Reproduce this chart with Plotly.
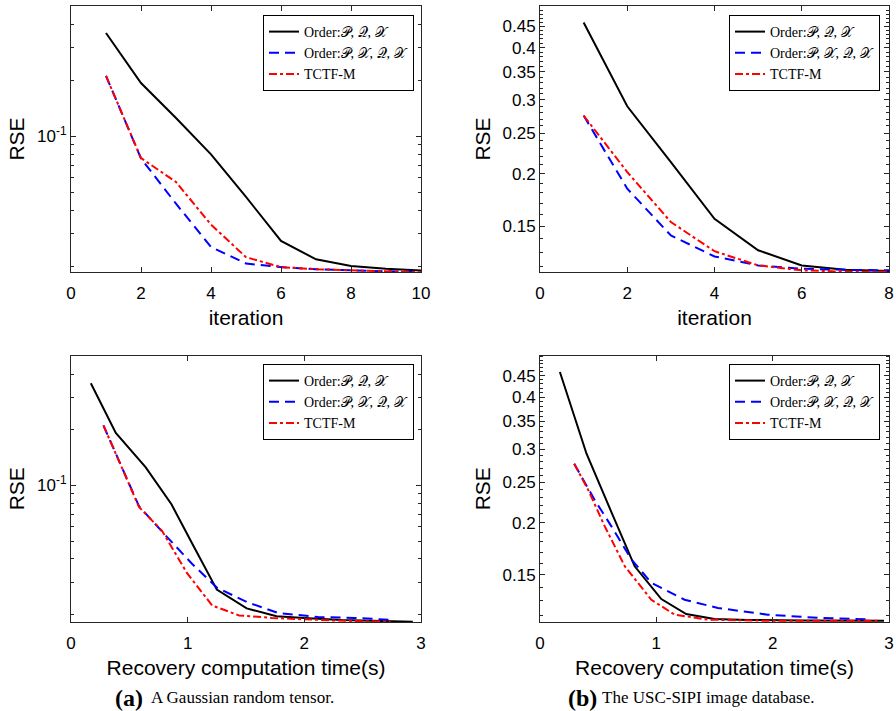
import plotly.graph_objects as go
import math

# ---------------- data ----------------
# (a) top: RSE vs iteration, Gaussian random tensor
a_iter_x = [1, 2, 3, 4, 5, 6, 7, 8, 9, 10]
a_iter_pqx = [0.359, 0.1934, 0.1254, 0.080, 0.0472, 0.0274, 0.0218, 0.0201, 0.0194, 0.0190]
a_iter_pxqx = [0.211, 0.0760, 0.0434, 0.0254, 0.0207, 0.0198, 0.0193, 0.0190, 0.0188, 0.0187]
a_iter_tctf = [0.211, 0.0764, 0.0568, 0.0335, 0.0224, 0.0198, 0.0193, 0.0190, 0.0188, 0.0186]

# (b) top: RSE vs iteration, USC-SIPI
b_iter_x = [1, 2, 3, 4, 5, 6, 7, 8]
b_iter_pqx = [0.4589, 0.2897, 0.2130, 0.1561, 0.1313, 0.1208, 0.1179, 0.1172]
b_iter_pxqx = [0.2753, 0.1842, 0.1424, 0.1269, 0.1208, 0.1186, 0.1179, 0.1176]
b_iter_tctf = [0.2753, 0.2018, 0.1533, 0.1306, 0.1208, 0.1176, 0.1167, 0.1166]

# (a) bottom: RSE vs time
a_time_pqx_x = [0.17, 0.384, 0.639, 0.861, 1.05, 1.25, 1.506, 1.762, 2.0, 2.32, 2.93]
a_time_pqx_y = [0.357, 0.192, 0.1256, 0.079, 0.047, 0.0273, 0.0216, 0.0196, 0.0192, 0.0187, 0.0183]
a_time_pxqx_x = [0.278, 0.583, 0.81, 1.037, 1.25, 1.506, 1.776, 2.117, 2.43, 2.76]
a_time_pxqx_y = [0.211, 0.0771, 0.0537, 0.0377, 0.028, 0.0234, 0.0204, 0.0194, 0.0192, 0.0187]
a_time_tctf_x = [0.278, 0.583, 0.78, 0.995, 1.21, 1.44, 1.72, 2.23, 2.74]
a_time_tctf_y = [0.211, 0.0764, 0.0568, 0.0335, 0.0224, 0.0198, 0.0192, 0.0186, 0.0183]

# (b) bottom: RSE vs time
b_time_pqx_x = [0.171, 0.40, 0.611, 0.814, 1.043, 1.257, 1.5, 1.786, 2.24, 2.957]
b_time_pqx_y = [0.4594, 0.2926, 0.213, 0.1573, 0.1313, 0.1209, 0.1177, 0.1170, 0.1167, 0.1165]
b_time_pxqx_x = [0.294, 0.471, 0.614, 0.786, 0.957, 1.243, 1.529, 1.957, 2.386, 2.814]
b_time_pxqx_y = [0.2769, 0.2265, 0.196, 0.1634, 0.1436, 0.1308, 0.125, 0.1205, 0.1184, 0.1174]
b_time_tctf_x = [0.294, 0.414, 0.557, 0.729, 0.957, 1.157, 1.443, 1.957, 2.9]
b_time_tctf_y = [0.2769, 0.2398, 0.196, 0.1573, 0.1308, 0.1205, 0.1172, 0.1165, 0.1165]

series_names = ["Order:\U0001D4AB, \U0001D4AC, \U0001D4B3",
                "Order:\U0001D4AB, \U0001D4B3, \U0001D4AC, \U0001D4B3",
                "TCTF-M"]
a_yticks = [0.1]
a_yticktext = ["10<sup>-1</sup>"]
a_yminor = [0.02, 0.03, 0.04, 0.05, 0.06, 0.07, 0.08, 0.09, 0.2, 0.3, 0.4, 0.5]
b_yticks = [0.15, 0.2, 0.25, 0.3, 0.35, 0.4, 0.45]
b_yticktext = ["0.15", "0.2", "0.25", "0.3", "0.35", "0.4", "0.45"]
b_yminor = [round(0.12 + 0.01 * i, 2) for i in range(39)]
captions = [("(a)", "A Gaussian random tensor."), ("(b)", "The USC-SIPI image database.")]

# ---------------- figure ----------------
W, H = 896, 711
fig = go.Figure()

styles = [dict(color="black", width=2, dash="solid"),
          dict(color="#0000ff", width=2, dash="10px,6px"),
          dict(color="#ff0000", width=2, dash="8px,3px,3px,3px")]

panels = [
    ("x", "y", "legend", [(a_iter_x, a_iter_pqx), (a_iter_x, a_iter_pxqx), (a_iter_x, a_iter_tctf)]),
    ("x2", "y2", "legend2", [(b_iter_x, b_iter_pqx), (b_iter_x, b_iter_pxqx), (b_iter_x, b_iter_tctf)]),
    ("x3", "y3", "legend3", [(a_time_pqx_x, a_time_pqx_y), (a_time_pxqx_x, a_time_pxqx_y), (a_time_tctf_x, a_time_tctf_y)]),
    ("x4", "y4", "legend4", [(b_time_pqx_x, b_time_pqx_y), (b_time_pxqx_x, b_time_pxqx_y), (b_time_tctf_x, b_time_tctf_y)]),
]
for xa, ya, lg, series in panels:
    for (xs, ys), name, st in zip(series, series_names, styles):
        fig.add_trace(go.Scatter(x=xs, y=ys, mode="lines", name=name,
                                 line=st, xaxis=xa, yaxis=ya, legend=lg))

axcol = "#262626"
tickfont = dict(family="Liberation Sans, Arial, sans-serif", size=17, color="black")
titlefont = dict(family="Liberation Sans, Arial, sans-serif", size=21, color="black")

def xax(domain, anchor, rng, dtick, title):
    return dict(domain=domain, anchor=anchor, range=rng, dtick=dtick, tick0=0, showline=True,
                linecolor=axcol, linewidth=1, mirror="allticks", ticks="inside", ticklen=5,
                tickcolor=axcol, showgrid=False, zeroline=False, tickfont=tickfont,
                automargin=False, ticklabelstandoff=6,
                title=dict(text=title, font=titlefont, standoff=7))

def yax(domain, anchor, rng, tv, tt, minor):
    return dict(domain=domain, anchor=anchor, type="log",
                range=[math.log10(rng[0]), math.log10(rng[1])],
                tickmode="array", tickvals=tv, ticktext=tt, showline=True, linecolor=axcol,
                linewidth=1, mirror="allticks", ticks="inside", ticklen=5, tickcolor=axcol,
                showgrid=False, zeroline=False, tickfont=tickfont, automargin=False,
                minor=dict(tickmode="array", tickvals=minor, ticks="inside", ticklen=3,
                           tickcolor=axcol, showgrid=False),
                title=dict(text="RSE", font=titlefont, standoff=6))

xl = [71 / W, 421 / W]
xr = [540 / W, 889 / W]
yt = [1 - 272 / H, 1 - 6 / H]
yb = [1 - 622 / H, 1 - 355.5 / H]

legfont = dict(family="Liberation Serif, DejaVu Serif, serif", size=14, color="black")
def leg(xp, yp):
    return dict(x=xp / W, y=1 - yp / H, xanchor="right", yanchor="top", xref="paper", yref="paper",
                bgcolor="white", bordercolor="black", borderwidth=1, font=legfont,
                itemwidth=30, tracegroupgap=0)

fig.update_layout(
    width=W, height=H, margin=dict(l=0, r=0, t=0, b=0, autoexpand=False),
    paper_bgcolor="white", plot_bgcolor="white",
    xaxis=xax(xl, "y", [0, 10], 2, "iteration"),
    yaxis=yax(yt, "x", [0.01864, 0.5017], a_yticks, a_yticktext, a_yminor),
    xaxis2=xax(xr, "y2", [0, 8], 2, "iteration"),
    yaxis2=yax(yt, "x2", [0.1165, 0.5027], b_yticks, b_yticktext, b_yminor),
    xaxis3=xax(xl, "y3", [0, 3], 1, "Recovery computation time(s)"),
    yaxis3=yax(yb, "x3", [0.01824, 0.504], a_yticks, a_yticktext, a_yminor),
    xaxis4=xax(xr, "y4", [0, 3], 1, "Recovery computation time(s)"),
    yaxis4=yax(yb, "x4", [0.1157, 0.503], b_yticks, b_yticktext, b_yminor),
    legend=leg(414, 15),
    legend2=leg(880, 15),
    legend3=leg(414, 364),
    legend4=leg(880, 364),
    showlegend=True,
)

cap_x = [(114, 150), (567, 601)]
for (lab, txt), (x1, x2) in zip(captions, cap_x):
    fig.add_annotation(x=x1 / W, y=1 - 698 / H, xref="paper", yref="paper", xanchor="left",
                       yanchor="middle", showarrow=False, text="<b>" + lab + "</b>", borderpad=0,
                       font=dict(family="Liberation Serif, serif", size=24, color="black"))
    fig.add_annotation(x=x2 / W, y=1 - 697 / H, xref="paper", yref="paper", xanchor="left",
                       yanchor="middle", showarrow=False, text=txt, borderpad=0,
                       font=dict(family="Liberation Serif, serif", size=17, color="black"))

fig.write_html("out.html", config={"displayModeBar": False},
               post_script="document.body.style.margin='0';document.body.style.overflow='hidden';")
